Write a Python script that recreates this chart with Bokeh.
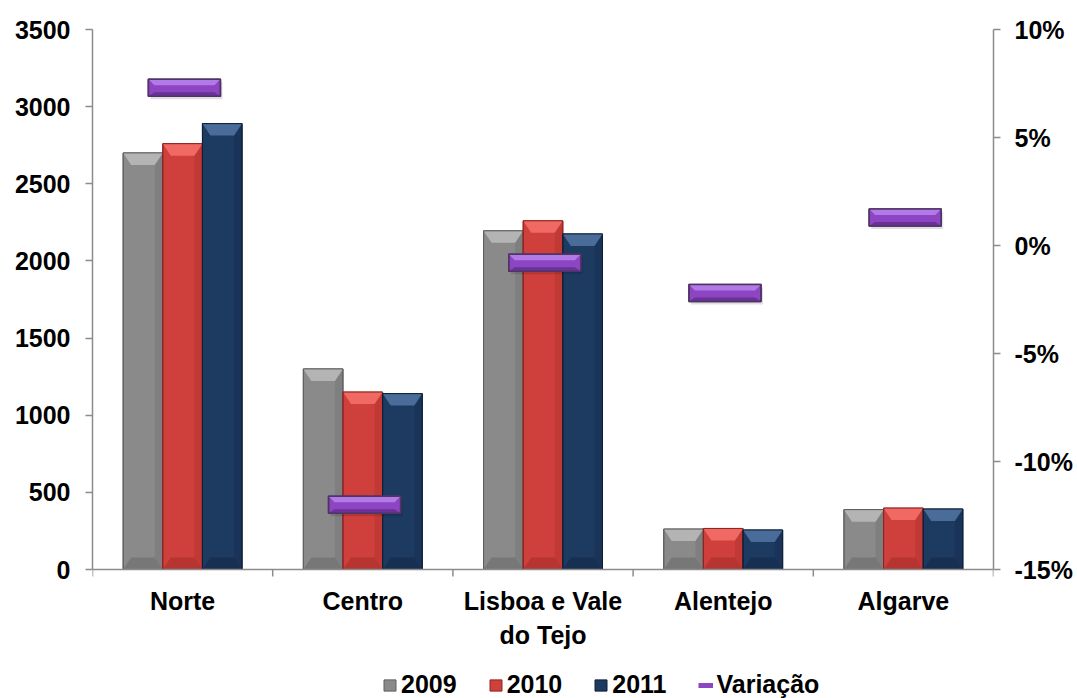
from bokeh.plotting import figure
from bokeh.models import (Range1d, LinearAxis, FixedTicker, NumeralTickFormatter,
                          Legend, LegendItem, ColumnDataSource)
from bokeh.core.properties import value
from bokeh.embed import file_html
from bokeh.resources import INLINE

# ---------------- data ----------------
regions = ["Norte", "Centro", "Lisboa e Vale\ndo Tejo", "Alentejo", "Algarve"]
years = ["2009", "2010", "2011"]
v2009 = [2700, 1300, 2195, 262, 388]
v2010 = [2760, 1150, 2260, 266, 398]
v2011 = [2890, 1140, 2175, 256, 392]
variacao = [0.073, -0.12, -0.008, -0.022, 0.013]
left_ticks = [0, 500, 1000, 1500, 2000, 2500, 3000, 3500]
right_ticks = [-0.15, -0.10, -0.05, 0.0, 0.05, 0.10]

# ---------------- styling ----------------
FONT = "Liberation Sans"
FS = "25px"
AXIS_COL = "#8c8c8c"
colors = {"2009": ("#8a8a8a", "#b4b4b4", "#6a6a6a", "#5e5e5e"),
          "2010": ("#cf3f3b", "#f06a63", "#a52e2b", "#8e2522"),
          "2011": ("#1d3a61", "#4a6c98", "#142a48", "#0f2038")}
PURPLE = ("#8d45c4", "#b27ae6", "#6a3296", "#4f3566")

FW, PH, BOTTOM = 901, 540, 129     # plot width, plot height, space below (px)
YMAX = 3500.0
PMIN, PMAX = -0.15, 0.10
uy = YMAX / PH                      # data units per px
upct = (PMAX - PMIN) / PH
ux = 5.0 / FW

p = figure(frame_width=FW, frame_height=PH + BOTTOM, output_backend="svg",
           toolbar_location=None, x_axis_location=None,
           x_range=Range1d(0, 5), y_range=Range1d(-BOTTOM * uy, YMAX),
           min_border_left=92, min_border_right=84, min_border_top=29,
           min_border_bottom=0)
p.extra_y_ranges = {"pct": Range1d(PMIN - BOTTOM * upct, PMAX)}
p.grid.visible = False
p.outline_line_color = None
p.background_fill_color = "white"
p.border_fill_color = "white"

bw = 0.22
offsets = [-0.22, 0.0, 0.22]
series = [v2009, v2010, v2011]
legend_items = []
for yr, off, vals in zip(years, offsets, series):
    base, light, dark, edge = colors[yr]
    xs = [i + 0.5 + off for i in range(len(regions))]
    src = ColumnDataSource(dict(x=xs, top=vals))
    r = p.vbar(x="x", top="top", width=bw, source=src, fill_color=base,
               line_color=edge, line_width=1)
    legend_items.append(LegendItem(label=yr, renderers=[r]))
    dx = 8 * ux
    dy = 12 * uy
    top_x, top_y, bot_x, bot_y, r_x, r_y = [], [], [], [], [], []
    for x, v in zip(xs, vals):
        x0, x1 = x - bw / 2, x + bw / 2
        hgt = min(dy, v / 2)
        top_x.append([x0, x1, x1 - dx, x0 + dx])
        top_y.append([v, v, v - hgt, v - hgt])
        bot_x.append([x0, x1, x1 - dx, x0 + dx])
        bot_y.append([0, 0, hgt, hgt])
        r_x.append([x1, x1 - dx, x1 - dx, x1])
        r_y.append([v, v - hgt, hgt, 0])
    p.patches(r_x, r_y, fill_color=dark, fill_alpha=0.35, line_color=None)
    p.patches(top_x, top_y, fill_color=light, line_color=None)
    p.patches(bot_x, bot_y, fill_color=dark, fill_alpha=0.6, line_color=None)
    p.vbar(x=xs, top=vals, width=bw, fill_color=None, line_color=edge, line_width=1)

# Variação markers
mw = 0.4
mh = 17 * upct
vx = [i + 0.51 for i in range(len(regions))]
msrc = ColumnDataSource(dict(left=[x - mw / 2 for x in vx], right=[x + mw / 2 for x in vx],
                             bottom=[v - mh / 2 for v in variacao],
                             top=[v + mh / 2 for v in variacao]))
p.quad(left=[x - mw / 2 + 2 * ux for x in vx], right=[x + mw / 2 + 2 * ux for x in vx],
       bottom=[v - mh / 2 - 3 * upct for v in variacao], top=[v + mh / 2 - 3 * upct for v in variacao],
       fill_color="#000000", fill_alpha=0.12, line_color=None, y_range_name="pct")
p.quad(left="left", right="right", bottom="bottom", top="top", source=msrc,
       fill_color=PURPLE[0], line_color=PURPLE[3], line_width=1.5, y_range_name="pct")
hx, hy, lx, ly = [], [], [], []
for x, v in zip(vx, variacao):
    x0, x1 = x - mw / 2, x + mw / 2
    d = 6 * ux
    hx.append([x0, x1, x1 - d, x0 + d])
    hy.append([v + mh / 2, v + mh / 2, v + mh / 2 - 6 * upct, v + mh / 2 - 6 * upct])
    lx.append([x0, x1, x1 - d, x0 + d])
    ly.append([v - mh / 2, v - mh / 2, v - mh / 2 + 4 * upct, v - mh / 2 + 4 * upct])
p.patches(hx, hy, fill_color=PURPLE[1], line_color=None, y_range_name="pct")
p.patches(lx, ly, fill_color=PURPLE[2], line_color=None, y_range_name="pct")
p.quad(left="left", right="right", bottom="bottom", top="top", source=msrc,
       fill_color=None, line_color=PURPLE[3], line_width=1.5, y_range_name="pct")
nan = float("nan")
leg_line = p.line(x=[nan, nan], y=[nan, nan], line_color=PURPLE[0], line_width=5)
legend_items.append(LegendItem(label="Variação", renderers=[leg_line]))

# ---------------- category axis (drawn at value 0) ----------------
n = len(regions)
p.segment(x0=[0], y0=[0], x1=[n], y1=[0], line_color=AXIS_COL, line_width=1.5)
bounds = list(range(n + 1))
p.segment(x0=bounds, y0=[0] * (n + 1), x1=bounds, y1=[-7 * uy] * (n + 1),
          line_color=AXIS_COL, line_width=1.5)
centers = [i + 0.5 for i in range(n)]
p.text(x=centers, y=[-17 * uy] * n, text=regions, text_font=value(FONT),
       text_font_style="bold", text_font_size=FS, text_color="black",
       text_align="center", text_baseline="top", text_line_height=1.22)

# ---------------- value axes ----------------
def style_axis(ax):
    ax.axis_line_color = AXIS_COL
    ax.axis_line_width = 1.5
    ax.major_tick_line_color = AXIS_COL
    ax.major_tick_line_width = 1.5
    ax.major_tick_in = 0
    ax.major_tick_out = 7
    ax.minor_tick_out = 0
    ax.minor_tick_in = 0
    ax.major_label_text_font = FONT
    ax.major_label_text_font_style = "bold"
    ax.major_label_text_font_size = FS
    ax.major_label_text_color = "black"

yl = p.yaxis[0]
yl.ticker = FixedTicker(ticks=left_ticks)
yl.bounds = (0, YMAX)
yl.major_label_standoff = 15
style_axis(yl)

yr_ax = LinearAxis(y_range_name="pct", ticker=FixedTicker(ticks=right_ticks),
                   formatter=NumeralTickFormatter(format="0%"), bounds=(PMIN, PMAX))
yr_ax.major_label_standoff = 14
style_axis(yr_ax)
p.add_layout(yr_ax, "right")

legend = Legend(items=legend_items, orientation="horizontal", location=(290, -1),
                label_text_font=FONT, label_text_font_style="bold",
                label_text_font_size=FS, label_text_color="black",
                glyph_width=15, glyph_height=14, label_standoff=4, spacing=31,
                border_line_color=None, background_fill_alpha=0,
                padding=0, margin=0)
p.add_layout(legend, "center")

open("out.html", "w").write(file_html(p, INLINE))
